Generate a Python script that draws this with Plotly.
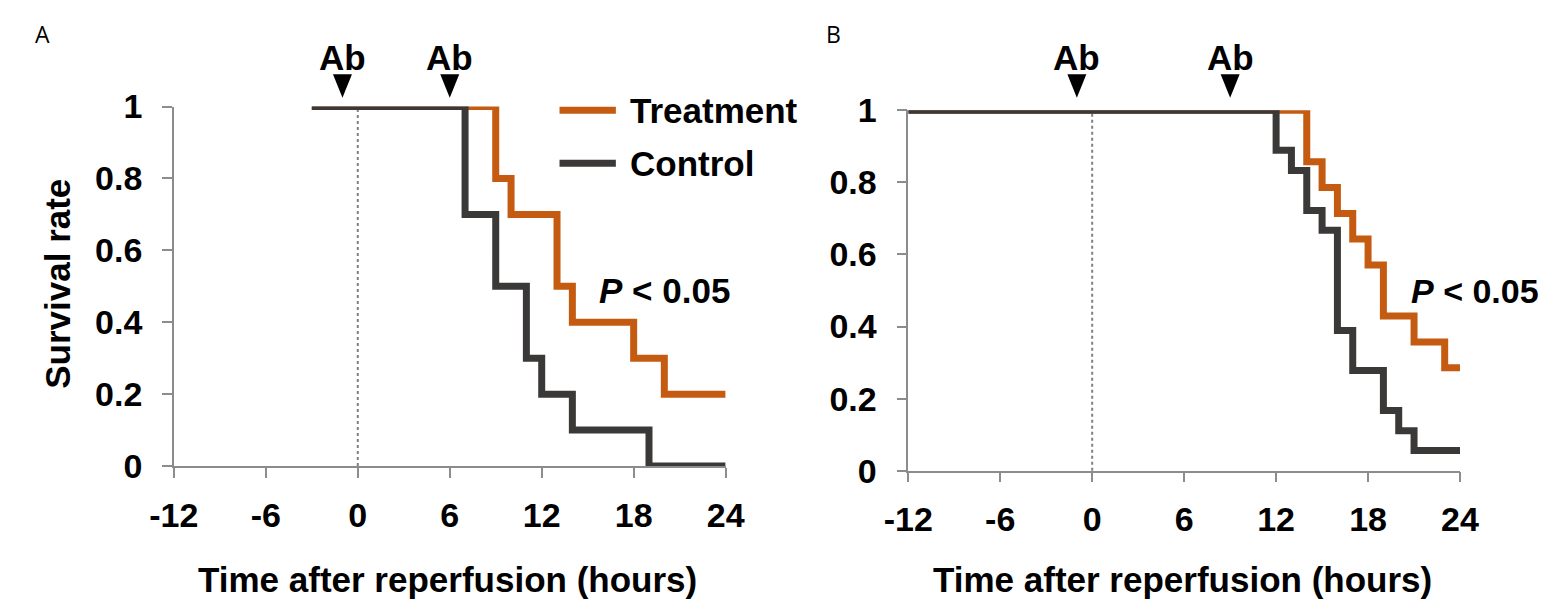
import plotly.graph_objs as go
from plotly.subplots import make_subplots

# --- data ---
# Panel A
a_treat_t = [-3, 9, 10, 13, 14, 18, 20, 24]
a_treat_s = [1, 0.8, 0.7, 0.5, 0.4, 0.3, 0.2, 0.2]
a_ctrl_t = [-3, 7, 9, 11, 12, 14, 19, 24]
a_ctrl_s = [1, 0.7, 0.5, 0.3, 0.2, 0.1, 0, 0]
a_doses = [-1, 6]

# Panel B
b_treat_t = [-12, 14, 15, 16, 17, 18, 19, 21, 23, 24]
b_treat_s = [1, 0.857, 0.786, 0.714, 0.643, 0.571, 0.429, 0.357, 0.286, 0.286]
b_ctrl_t = [-12, 12, 13, 14, 15, 16, 17, 19, 20, 21, 24]
b_ctrl_s = [1, 0.889, 0.833, 0.722, 0.667, 0.389, 0.278, 0.167, 0.111, 0.056, 0.056]
b_doses = [-1, 9]

x_ticks = [-12, -6, 0, 6, 12, 18, 24]
x_ticktext = ["-12", "-6", "0", "6", "12", "18", "24"]
y_ticks = [0, 0.2, 0.4, 0.6, 0.8, 1]
y_ticktext = ["0", "0.2", "0.4", "0.6", "0.8", "1"]

ORANGE = "#C55A11"
DARK = "#3B3838"
GREY = "#8C8C8C"
# page body adds an 8px margin, so the figure is 16px smaller than the window
W, H = 1540, 595

ARIAL = "Liberation Sans, Arial, sans-serif"
BOLD = dict(family=ARIAL, size=35, color="black", weight="bold")


def px(x):
    return x / W


def py(y):
    return 1 - y / H


fig = make_subplots(rows=1, cols=2)

panels = [
    (1, a_treat_t, a_treat_s, a_ctrl_t, a_ctrl_s, a_doses),
    (2, b_treat_t, b_treat_s, b_ctrl_t, b_ctrl_s, b_doses),
]
for col, tt, ts, ct, cs, doses in panels:
    fig.add_trace(go.Scatter(x=tt, y=ts, mode="lines", line=dict(color=ORANGE, width=7, shape="hv"),
                             cliponaxis=False, showlegend=False, name="Treatment"), row=1, col=col)
    fig.add_trace(go.Scatter(x=ct, y=cs, mode="lines", line=dict(color=DARK, width=7, shape="hv"),
                             cliponaxis=False, showlegend=False, name="Control"), row=1, col=col)
    fig.add_vline(x=0, line_dash="dot", line_color="#808080", line_width=2, layer="below", row=1, col=col)

    xref = "x" if col == 1 else "x2"
    for d in doses:
        # dose arrow: triangle sized in pixels, anchored at the dose time
        fig.add_shape(type="path", xref=xref, yref="paper", xsizemode="pixel", ysizemode="pixel",
                      xanchor=d, yanchor=py(75.5), path="M-9.5,23.5 L9.5,23.5 L0,0 Z",
                      fillcolor="black", line_width=0)
        fig.add_annotation(x=d, y=py(33), xref=xref, yref="paper", text="Ab",
                           showarrow=False, xanchor="center", yanchor="middle", font=BOLD)

axis_common = dict(showline=True, linecolor=GREY, linewidth=1.5, ticks="outside", tickcolor=GREY,
                   ticklen=10, tickwidth=1.5, showgrid=False, zeroline=False,
                   tickfont=dict(family=ARIAL, size=34, color="black", weight="bold"))
fig.update_xaxes(range=[-12, 24], tickvals=x_ticks, ticktext=x_ticktext, ticklabelstandoff=8, **axis_common)
fig.update_yaxes(range=[0, 1], tickvals=y_ticks, ticktext=y_ticktext, ticklabelstandoff=13, **axis_common)

fig.update_layout(
    xaxis=dict(domain=[px(145), px(713)]),
    yaxis=dict(domain=[py(469), py(85)]),
    xaxis2=dict(domain=[px(901), px(1469)]),
    yaxis2=dict(domain=[py(474), py(89)]),
)

# axis titles
for xc in [427, 1183]:
    fig.add_annotation(x=px(xc), y=py(590), xref="paper", yref="paper",
                       text="Time after reperfusion (hours)", showarrow=False,
                       xanchor="center", yanchor="middle", font=BOLD)
fig.add_annotation(x=px(25), y=py(274), xref="paper", yref="paper", text="Survival rate",
                   textangle=-90, showarrow=False, xanchor="center", yanchor="middle", font=BOLD)

# legend drawn by hand, as in the original
for label, color, ypix in [("Treatment", ORANGE, 89), ("Control", DARK, 145.5)]:
    fig.add_shape(type="line", xref="paper", yref="paper", x0=px(542), x1=px(600),
                  y0=py(ypix), y1=py(ypix), line=dict(color=color, width=7))
    fig.add_annotation(x=px(612), y=py(ypix), xref="paper", yref="paper", text=label,
                       showarrow=False, xanchor="left", yanchor="middle", font=BOLD)

# p-values
for xl, size in [(581, 35), (1416, 34)]:
    fig.add_annotation(x=px(xl), y=py(281.5), xref="paper", yref="paper", text="<i>P</i> < 0.05",
                       showarrow=False, xanchor="left", yanchor="middle", font={**BOLD, "size": size})

# panel letters
for letter, xl in [("A", 0), ("B", 814)]:
    fig.add_annotation(x=px(xl), y=py(8), xref="paper", yref="paper", text=letter, showarrow=False,
                       xanchor="left", yanchor="middle",
                       font=dict(family="Open Sans, sans-serif", size=23, color="black"))

fig.update_layout(
    width=W, height=H,
    margin=dict(l=0, r=0, t=0, b=0),
    plot_bgcolor="white", paper_bgcolor="white",
    showlegend=False,
)
fig.write_html("out.html")
